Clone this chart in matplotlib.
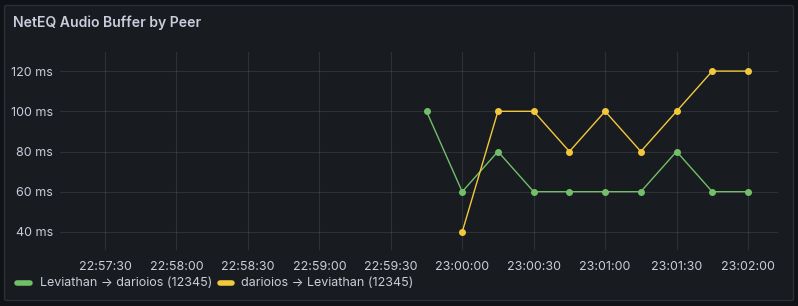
import matplotlib
matplotlib.use("Agg")
from matplotlib import pyplot as plt
from matplotlib.patches import FancyBboxPatch
import matplotlib.dates as mdates
from datetime import datetime

# series data
green_times = ["22:59:45", "23:00:00", "23:00:15", "23:00:30", "23:00:45",
               "23:01:00", "23:01:15", "23:01:30", "23:01:45", "23:02:00"]
green_values = [100, 60, 80, 60, 60, 60, 60, 80, 60, 60]

yellow_times = ["23:00:00", "23:00:15", "23:00:30", "23:00:45", "23:01:00",
                "23:01:15", "23:01:30", "23:01:45", "23:02:00"]
yellow_values = [40, 100, 100, 80, 100, 80, 100, 120, 120]

green_label = "Leviathan \u2192 darioios (12345)"
yellow_label = "darioios \u2192 Leviathan (12345)"

y_ticks = [40, 60, 80, 100, 120]
x_ticks = ["22:57:30", "22:58:00", "22:58:30", "22:59:00", "22:59:30",
           "23:00:00", "23:00:30", "23:01:00", "23:01:30", "23:02:00"]


def t(s):
    return datetime.strptime("2024-01-01 " + s, "%Y-%m-%d %H:%M:%S")


plt.rcParams['font.family'] = ['Inter', 'DejaVu Sans']

txt = '#ccccdc'
green = '#73bf69'
yellow = '#f2c93c'

fig = plt.figure(figsize=(7.98, 3.06), dpi=100)
fig.patch.set_facecolor('#111217')

W, H = 798, 306
panel = FancyBboxPatch((4.5 / W, 5.5 / H), 789 / W, 295 / H,
                       boxstyle="round,pad=0,rounding_size=0.004",
                       transform=fig.transFigure, facecolor='#181b1f',
                       edgecolor='#2c2f35', linewidth=1, zorder=-5)
fig.patches.append(panel)

fig.text(13 / W, 1 - 23 / H, "NetEQ Audio Buffer by Peer", color=txt,
         fontsize=10.1, fontweight='semibold', va='center', ha='left')

ax = fig.add_axes([60 / W, 1 - 250 / H, 718 / W, 198 / H])
ax.set_facecolor('none')

ax.plot([t(s) for s in green_times], green_values, color=green, lw=1,
        marker='o', ms=4, mec=green, mfc=green)
ax.plot([t(s) for s in yellow_times], yellow_values, color=yellow, lw=1,
        marker='o', ms=4, mec=yellow, mfc=yellow)

ax.set_xlim(mdates.date2num(t("22:57:30")) - 18.9 / 86400,
            mdates.date2num(t("23:02:00")) + 12.6 / 86400)
ax.set_ylim(31, 129.5)

ax.set_yticks(y_ticks)
ax.set_yticklabels([f"{v} ms" for v in y_ticks])
ax.set_xticks([t(s) for s in x_ticks])
ax.set_xticklabels(x_ticks)

for s in ax.spines.values():
    s.set_visible(False)
ax.tick_params(colors=txt, labelsize=9, length=0)
ax.tick_params(axis='x', pad=8)
ax.tick_params(axis='y', pad=5)
ax.grid(True, color='#ccccdc', alpha=0.12, lw=0.8)
ax.set_axisbelow(True)

# legend
fig.lines.append(plt.Line2D([17 / W, 30 / W], [1 - 283 / H] * 2, transform=fig.transFigure,
                            color=green, lw=4, solid_capstyle='round'))
fig.text(40 / W, 1 - 283 / H, green_label, color=txt, fontsize=9, va='center')
fig.lines.append(plt.Line2D([220 / W, 232 / W], [1 - 283 / H] * 2, transform=fig.transFigure,
                            color=yellow, lw=4, solid_capstyle='round'))
fig.text(241 / W, 1 - 283 / H, yellow_label, color=txt, fontsize=9, va='center')

fig.savefig("out.png", dpi=100, facecolor=fig.get_facecolor())
